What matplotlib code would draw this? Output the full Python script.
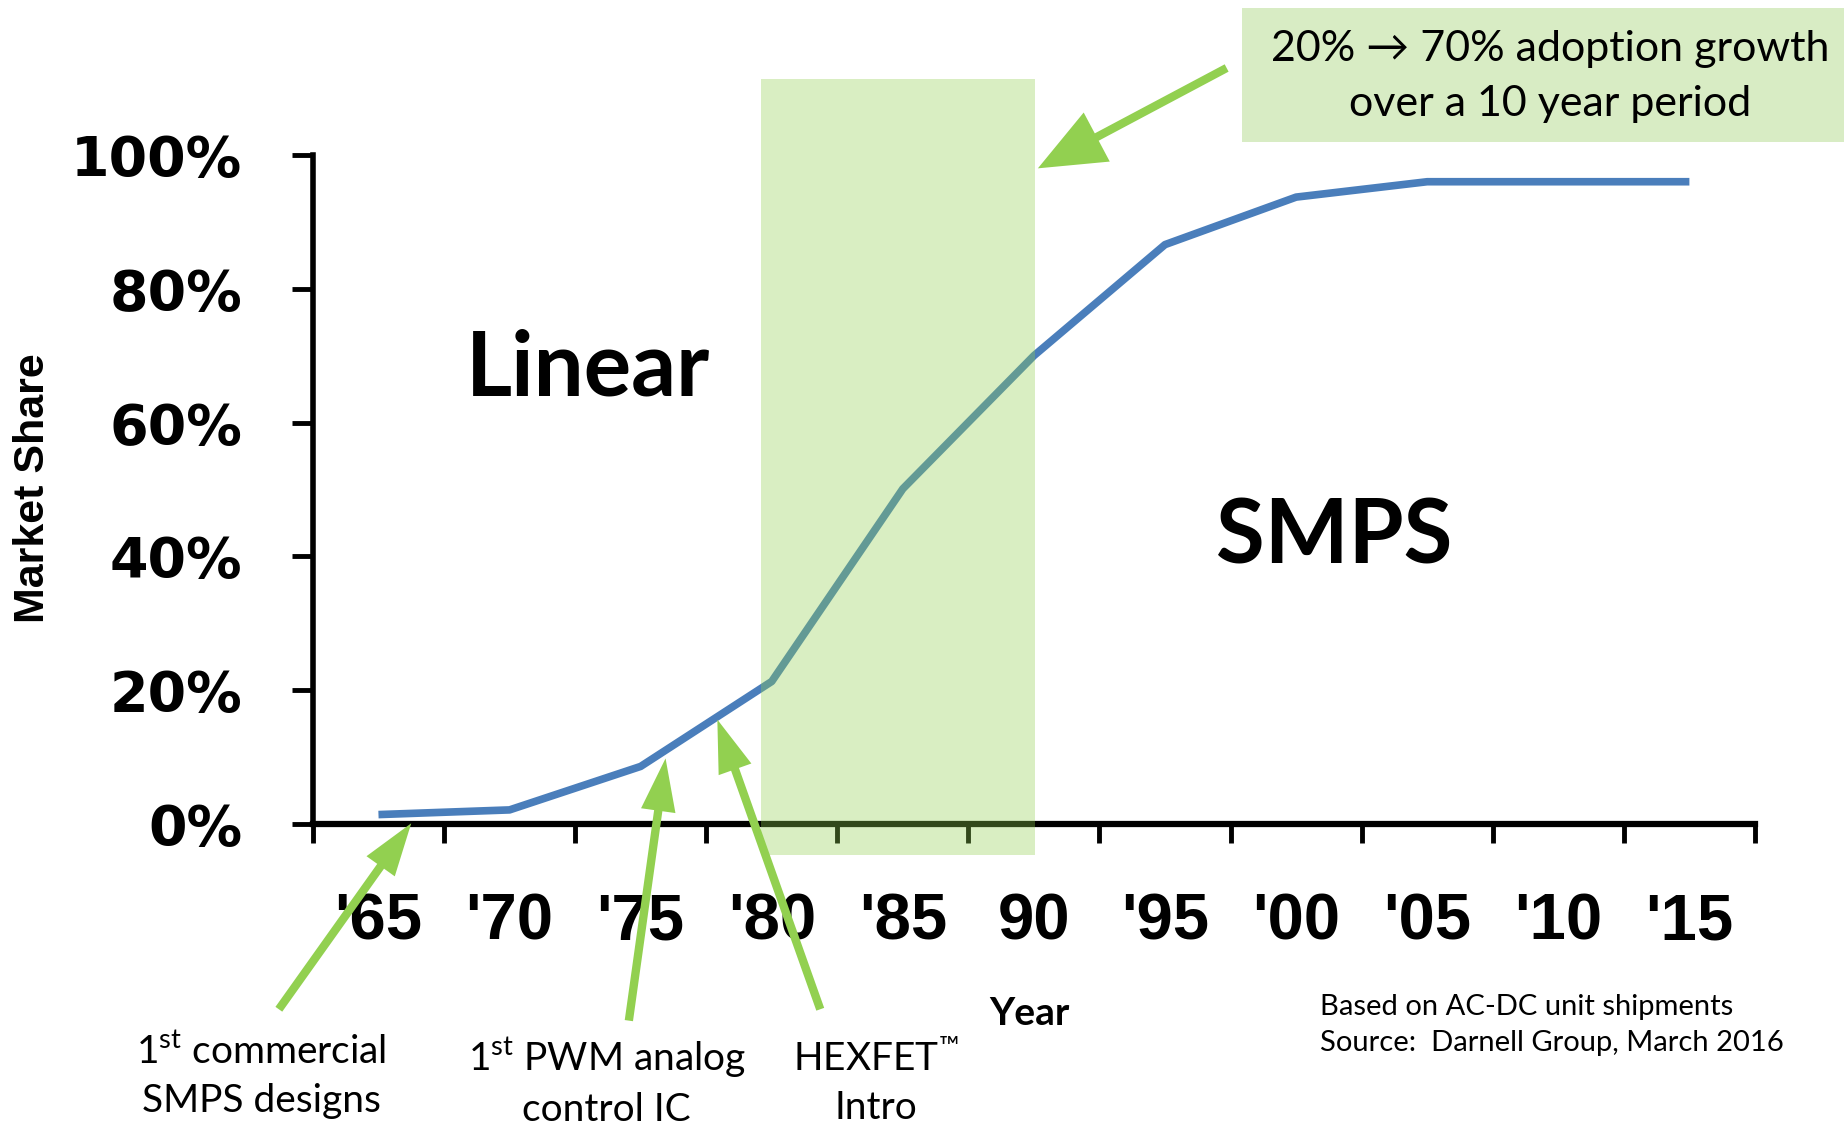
import matplotlib
matplotlib.use("Agg")
import matplotlib.pyplot as plt
from matplotlib.patches import Rectangle
import numpy as np

# data
years = ["'65", "'70", "'75", "'80", "'85", "90", "'95", "'00", "'05", "'10", "'15"]
share = [1.4, 2.1, 8.6, 21.3, 50.1, 70.0, 86.6, 93.7, 96.0, 96.0, 96.0]
y_ticks = [0, 20, 40, 60, 80, 100]

BLUE = "#4A7EBB"
GREEN = "#92D050"
BOX = "#D8ECC4"
REG = ["Lato", "DejaVu Sans"]

plt.rcParams["mathtext.fontset"] = "custom"
plt.rcParams["mathtext.rm"] = "Lato"

fig = plt.figure(figsize=(18.44, 11.27), dpi=100)
ax = fig.add_axes([0.1697, 0.2689, 0.782, 0.5936])

x = np.arange(len(years))
ax.plot(x, share, color=BLUE, lw=5.5, solid_capstyle="butt", zorder=2)

ax.set_xlim(-0.5, len(years) - 0.5)
ax.set_ylim(0, 100)
for s in ["top", "right"]:
    ax.spines[s].set_visible(False)
ax.spines["left"].set_linewidth(4)
ax.spines["bottom"].set_linewidth(4.5)

# ticks at category boundaries, labels at centres
ax.set_xticks(np.arange(-0.5, len(years), 1.0))
ax.set_xticklabels([])
ax.set_xticks(x, minor=True)
ax.set_xticklabels(years, minor=True, fontsize=47, fontweight="bold",
                   family=["Liberation Sans", "DejaVu Sans"])
ax.tick_params(axis="x", which="major", length=14, width=3.5, direction="out")
ax.tick_params(axis="x", which="minor", length=0, pad=49)

ax.set_yticks(y_ticks)
ax.set_yticklabels([f"{v}%" for v in y_ticks], fontsize=40, fontweight="bold",
                   family="DejaVu Sans")
ax.tick_params(axis="y", length=15, width=3.5, pad=36)

# shaded adoption window
ax.add_patch(Rectangle((2.92, -4.6), 5.01 - 2.92, 111.4 + 4.6, facecolor=GREEN,
                       alpha=0.35, lw=0, clip_on=False, zorder=4))

ax.text(1.6, 67.9, "Linear", fontsize=64, fontweight="bold", family=REG,
        ha="center", va="center")
ax.text(7.29, 42.8, "SMPS", fontsize=64, fontweight="bold", family=REG,
        ha="center", va="center")

# arrows
def arrow(tail, head, hw=25, hl=38, tw=6):
    ax.annotate("", xy=head, xytext=tail, xycoords="data", textcoords="data",
                annotation_clip=False,
                arrowprops=dict(arrowstyle=f"simple,head_width={hw},head_length={hl},tail_width={tw}",
                                color=GREEN, mutation_scale=1, shrinkA=0, shrinkB=0,
                                lw=0, zorder=5))

arrow((6.47, 113.0), (5.03, 98.0), hw=40, hl=48, tw=6)
arrow((-0.76, -27.7), (0.25, 0.1))
arrow((1.91, -29.4), (2.19, 9.8))
arrow((3.37, -27.7), (2.585, 15.6))

# text box at top right
fig.patches.append(Rectangle((0.6735, 0.874), 0.33, 0.119, transform=fig.transFigure,
                             facecolor=BOX, lw=0, zorder=0))
fig.text(0.8406, 0.932, "20% \u2192 70% adoption growth\nover a 10 year period",
         fontsize=31, family=REG, ha="center", va="center", linespacing=1.55)

fig.text(0.558, 0.1005, "Year", fontsize=28, fontweight="bold", family=REG,
         ha="center", va="center")
fig.text(0.0179, 0.567, "Market Share", fontsize=31, fontweight="bold",
         family=["Liberation Sans", "DejaVu Sans"], rotation=90, ha="center", va="center")

fig.text(0.1416, 0.045, "1$^{\\mathrm{st}}$ commercial\nSMPS designs", fontsize=28,
         family=REG, ha="center", va="center", linespacing=1.4)
fig.text(0.329, 0.040, "1$^{\\mathrm{st}}$ PWM analog\ncontrol IC", fontsize=28,
         family=REG, ha="center", va="center", linespacing=1.4)
fig.text(0.475, 0.039, "HEXFET$^{\\mathrm{\u2122}}$\nIntro", fontsize=28,
         family=REG, ha="center", va="center", linespacing=1.4)

fig.text(0.7156, 0.0905, "Based on AC-DC unit shipments\nSource:  Darnell Group, March 2016",
         fontsize=21, family=REG, ha="left", va="center", linespacing=1.5)

fig.savefig("out.png", dpi=100)
